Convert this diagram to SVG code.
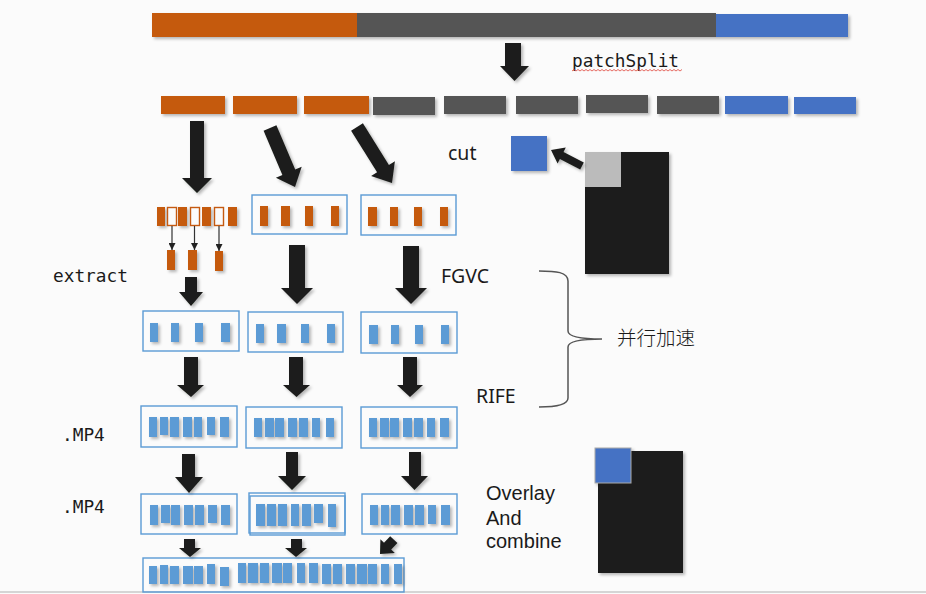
<svg xmlns="http://www.w3.org/2000/svg" width="926" height="594" viewBox="0 0 926 594">
<defs>
<filter id="sh" x="-30%" y="-30%" width="160%" height="160%">
<feDropShadow dx="2" dy="2" stdDeviation="1.6" flood-color="#000" flood-opacity="0.28"/>
</filter>
<marker id="tiny" viewBox="0 0 10 10" refX="10" refY="5" markerWidth="7" markerHeight="7" markerUnits="userSpaceOnUse" orient="auto">
<path d="M0,0 L10,5 L0,10 Z" fill="#222"/>
</marker>
</defs>
<style>
.or{fill:#C55A11}
.gr{fill:#545454}
.bl{fill:#4472C4}
.lb{fill:#5B9BD5}
.box{fill:none;stroke:#5B9BD5;stroke-width:1.4}
.hol{fill:#FBFBFB;stroke:#C55A11;stroke-width:1.4}
.arr{fill:#1B1D1A}
.mono{font-family:"DejaVu Sans Mono","Liberation Mono",monospace;font-size:17.8px;fill:#1A1A1A}
.sans{font-family:"Noto Sans","Open Sans","Liberation Sans",sans-serif;font-size:19.5px;fill:#1A1A1A}
.sans2{font-family:"Liberation Sans","Noto Sans",sans-serif;font-size:20px;fill:#1A1A1A}
.cjk{font-family:"Noto Sans CJK SC","Noto Sans",sans-serif;font-size:19.5px;fill:#1A1A1A;font-weight:300}
</style>
<rect x="0" y="0" width="926" height="594" fill="#FBFBFB"/>
<line x1="0" y1="592" x2="926" y2="592" stroke="#C8C8C8" stroke-width="1.5"/>

<g id="source-bar" filter="url(#sh)">
<rect class="or" x="152" y="13" width="205" height="24"/>
<rect class="gr" x="357" y="13" width="359" height="24"/>
<rect class="bl" x="716" y="14" width="132" height="23"/>
</g>

<g id="split-segments" filter="url(#sh)">
<rect class="or" x="161" y="96" width="64" height="18"/>
<rect class="or" x="233" y="96" width="64" height="18"/>
<rect class="or" x="304" y="96" width="65" height="18"/>
<rect class="gr" x="373" y="97" width="62" height="18"/>
<rect class="gr" x="444" y="96" width="62" height="18"/>
<rect class="gr" x="516" y="96" width="62" height="18"/>
<rect class="gr" x="586" y="95" width="62" height="18"/>
<rect class="gr" x="657" y="96" width="62" height="18"/>
<rect class="bl" x="725" y="96" width="63" height="18"/>
<rect class="bl" x="794" y="97" width="62" height="17"/>
</g>

<g id="cut-square" filter="url(#sh)">
<rect class="bl" x="511" y="136" width="36" height="35"/>
</g>
<g id="frame-source" filter="url(#sh)">
<rect x="585" y="152" width="84" height="122" fill="#1C1E1B"/>
<rect x="585" y="152" width="36" height="35" fill="#BBBBBB"/>
</g>

<g id="col1-frames">
<g filter="url(#sh)">
<rect class="or" x="157" y="207" width="8" height="19"/>
<rect class="or" x="178" y="207" width="9" height="19"/>
<rect class="or" x="202" y="207" width="9" height="19"/>
<rect class="or" x="228" y="207" width="9" height="19"/>
</g>
<rect class="hol" x="167.5" y="207.5" width="9" height="18"/>
<rect class="hol" x="190.5" y="207.5" width="9" height="18"/>
<rect class="hol" x="214.5" y="207.5" width="9" height="18"/>
</g>
<g id="col1-extracted" filter="url(#sh)">
<rect class="or" x="167" y="250" width="8" height="20"/>
<rect class="or" x="188" y="250" width="9" height="20"/>
<rect class="or" x="215" y="251" width="8" height="20"/>
</g>

<g id="col2-frames">
<rect class="box" x="252" y="195" width="95" height="39"/>
<g filter="url(#sh)">
<rect class="or" x="260" y="206" width="8" height="20"/>
<rect class="or" x="281" y="206" width="9" height="20"/>
<rect class="or" x="305" y="206" width="8" height="20"/>
<rect class="or" x="331" y="206" width="8" height="20"/>
</g>
</g>
<g id="col3-frames">
<rect class="box" x="361" y="195" width="95" height="40"/>
<g filter="url(#sh)">
<rect class="or" x="368" y="207" width="9" height="19"/>
<rect class="or" x="390" y="207" width="8" height="19"/>
<rect class="or" x="414" y="207" width="8" height="19"/>
<rect class="or" x="440" y="207" width="8" height="19"/>
</g>
</g>

<g id="fgvc-col1">
<rect class="box" x="143" y="311" width="96" height="40"/>
<g filter="url(#sh)">
<rect class="lb" x="150" y="323" width="8" height="19"/>
<rect class="lb" x="171" y="323" width="8" height="19"/>
<rect class="lb" x="195" y="323" width="8" height="19"/>
<rect class="lb" x="221" y="323" width="9" height="19"/>
</g>
</g>
<g id="fgvc-col2">
<rect class="box" x="248" y="312" width="95" height="40"/>
<g filter="url(#sh)">
<rect class="lb" x="256" y="324" width="8" height="19"/>
<rect class="lb" x="277" y="324" width="9" height="19"/>
<rect class="lb" x="301" y="324" width="8" height="19"/>
<rect class="lb" x="327" y="324" width="8" height="19"/>
</g>
</g>
<g id="fgvc-col3">
<rect class="box" x="361" y="312" width="96" height="41"/>
<g filter="url(#sh)">
<rect class="lb" x="369" y="325" width="9" height="19"/>
<rect class="lb" x="391" y="325" width="8" height="19"/>
<rect class="lb" x="415" y="325" width="8" height="19"/>
<rect class="lb" x="441" y="325" width="8" height="19"/>
</g>
</g>

<g id="rife-col1">
<rect class="box" x="141" y="406" width="96" height="41"/>
<g filter="url(#sh)">
<rect class="lb" x="149" y="417" width="8" height="20"/>
<rect class="lb" x="160" y="417" width="8" height="18"/>
<rect class="lb" x="170" y="417" width="9" height="20"/>
<rect class="lb" x="183" y="417" width="9" height="20"/>
<rect class="lb" x="194" y="417" width="8" height="20"/>
<rect class="lb" x="207" y="417" width="8" height="18"/>
<rect class="lb" x="220" y="417" width="9" height="20"/>
</g>
</g>
<g id="rife-col2">
<rect class="box" x="246" y="407" width="96" height="41"/>
<g filter="url(#sh)">
<rect class="lb" x="254" y="418" width="8" height="19"/>
<rect class="lb" x="265" y="418" width="9" height="19"/>
<rect class="lb" x="275" y="418" width="9" height="19"/>
<rect class="lb" x="288" y="418" width="9" height="19"/>
<rect class="lb" x="299" y="418" width="9" height="19"/>
<rect class="lb" x="312" y="418" width="8" height="19"/>
<rect class="lb" x="326" y="418" width="8" height="19"/>
</g>
</g>
<g id="rife-col3">
<rect class="box" x="361" y="407" width="96" height="41"/>
<g filter="url(#sh)">
<rect class="lb" x="369" y="418" width="8" height="19"/>
<rect class="lb" x="380" y="418" width="9" height="19"/>
<rect class="lb" x="390" y="418" width="9" height="19"/>
<rect class="lb" x="403" y="418" width="9" height="19"/>
<rect class="lb" x="414" y="418" width="9" height="19"/>
<rect class="lb" x="427" y="418" width="8" height="19"/>
<rect class="lb" x="440" y="418" width="9" height="19"/>
</g>
</g>

<g id="mp4-col1">
<rect class="box" x="141" y="494" width="96" height="40"/>
<g filter="url(#sh)">
<rect class="lb" x="150" y="505" width="8" height="20"/>
<rect class="lb" x="161" y="505" width="9" height="18"/>
<rect class="lb" x="171" y="505" width="9" height="20"/>
<rect class="lb" x="184" y="505" width="9" height="20"/>
<rect class="lb" x="195" y="505" width="9" height="20"/>
<rect class="lb" x="208" y="505" width="9" height="18"/>
<rect class="lb" x="221" y="505" width="9" height="20"/>
</g>
</g>
<g id="mp4-col2">
<rect class="box" x="249" y="493" width="96" height="40"/>
<rect class="box" x="250" y="496" width="95" height="39"/>
<g filter="url(#sh)">
<rect class="lb" x="256" y="504" width="9" height="22"/>
<rect class="lb" x="267" y="504" width="9" height="22"/>
<rect class="lb" x="278" y="504" width="9" height="22"/>
<rect class="lb" x="291" y="504" width="8" height="22"/>
<rect class="lb" x="302" y="504" width="9" height="22"/>
<rect class="lb" x="314" y="504" width="9" height="19"/>
<rect class="lb" x="328" y="504" width="8" height="23"/>
</g>
</g>
<g id="mp4-col3">
<rect class="box" x="362" y="494" width="95" height="40"/>
<g filter="url(#sh)">
<rect class="lb" x="370" y="505" width="8" height="20"/>
<rect class="lb" x="381" y="505" width="8" height="20"/>
<rect class="lb" x="391" y="505" width="9" height="20"/>
<rect class="lb" x="404" y="505" width="9" height="20"/>
<rect class="lb" x="415" y="505" width="9" height="20"/>
<rect class="lb" x="428" y="505" width="8" height="19"/>
<rect class="lb" x="441" y="505" width="9" height="20"/>
</g>
</g>

<g id="combined">
<rect class="box" x="143" y="558" width="261" height="34"/>
<g filter="url(#sh)">
<rect class="lb" x="149" y="566" width="8" height="18"/>
<rect class="lb" x="160" y="565" width="8" height="19"/>
<rect class="lb" x="170" y="566" width="9" height="18"/>
<rect class="lb" x="183" y="566" width="10" height="18"/>
<rect class="lb" x="194" y="566" width="9" height="18"/>
<rect class="lb" x="207" y="564" width="8" height="20"/>
<rect class="lb" x="220" y="567" width="9" height="19"/>
<rect class="lb" x="238" y="563" width="8" height="20"/>
<rect class="lb" x="248" y="563" width="10" height="20"/>
<rect class="lb" x="260" y="563" width="9" height="20"/>
<rect class="lb" x="272" y="563" width="10" height="20"/>
<rect class="lb" x="283" y="563" width="9" height="20"/>
<rect class="lb" x="297" y="563" width="8" height="20"/>
<rect class="lb" x="309" y="563" width="9" height="20"/>
<rect class="lb" x="322" y="564" width="9" height="20"/>
<rect class="lb" x="333" y="564" width="9" height="20"/>
<rect class="lb" x="346" y="564" width="9" height="20"/>
<rect class="lb" x="357" y="564" width="10" height="20"/>
<rect class="lb" x="368" y="564" width="9" height="20"/>
<rect class="lb" x="381" y="564" width="8" height="20"/>
<rect class="lb" x="394" y="564" width="8" height="20"/>
</g>
</g>

<g id="overlay-result" filter="url(#sh)">
<rect x="598" y="451" width="85" height="122" fill="#1C1E1B"/>
<rect class="bl" x="595" y="448" width="36" height="35" stroke="#AAAAAA" stroke-width="1"/>
</g>

<g id="connectors">
<g class="arr" filter="url(#sh)">
<polygon points="505,43 521,43 521,66 529,66 514.5,81 500,66 505,66"/>
<polygon points="190,121 204,121 204,178 212,178 197,193 182,178 190,178"/>
<polygon points="276.4,125.3 295.2,169.6 301.7,166.8 295,187 275.9,177.8 282.4,175 263.6,130.7"/>
<polygon points="362.9,123.3 388.9,164.9 394.9,161.2 392,183 371.1,176 377.1,172.3 351.1,130.7"/>
<polygon points="583.8,162.4 563.5,151.9 565.8,147.5 551,150 557.6,163.5 559.9,159.1 580.2,169.6"/>
<polygon points="185,277 197,277 197,292 203,292 191,306 179,292 185,292"/>
<polygon points="289,245 305,245 305,288 313,288 297,304 281,288 289,288"/>
<polygon points="403,246 419,246 419,288 427,288 411,304 395,288 403,288"/>
<polygon points="184,357 198,357 198,385 204,385 191,397 177,385 184,385"/>
<polygon points="289,357 303,357 303,385 310,385 296.5,397 283,385 289,385"/>
<polygon points="403,357 417,357 417,385 423,385 410,397 397,385 403,385"/>
<polygon points="182,454 195,454 195,477 203,477 189,493 175,477 182,477"/>
<polygon points="286,452 298,452 298,476 306,476 292,490 278,476 286,476"/>
<polygon points="409,452 421,452 421,476 428,476 414.5,490 401,476 409,476"/>
<polygon points="184,539 195,539 195,548 201,548 190,557 179,548 184,548"/>
<polygon points="291,539 302,539 302,548 307,548 296,557 285,548 291,548"/>
<polygon points="390.2,536.2 384,542.7 380.4,539.2 380,554 394.8,553 391.2,549.6 397.4,543.1"/>
</g>
<g stroke="#333" stroke-width="1.2" fill="none">
<line x1="172" y1="226" x2="172" y2="250" marker-end="url(#tiny)"/>
<line x1="194.5" y1="226" x2="194.5" y2="250" marker-end="url(#tiny)"/>
<line x1="219" y1="226" x2="219" y2="251" marker-end="url(#tiny)"/>
</g>
<path d="M539,271 C556,271 568,272 568,281 L568,331 C568,337 584,339 602,339 C584,339 568,341 568,347 L568,398 C568,405 556,407 539,407" fill="none" stroke="#555" stroke-width="1.5"/>
</g>

<g id="labels">
<text class="mono" x="572" y="67">patchSplit</text>
<path d="M572,71 l2,-1.5 l2,1.5 l2,-1.5 l2,1.5 l2,-1.5 l2,1.5 l2,-1.5 l2,1.5 l2,-1.5 l2,1.5 l2,-1.5 l2,1.5 l2,-1.5 l2,1.5 l2,-1.5 l2,1.5 l2,-1.5 l2,1.5 l2,-1.5 l2,1.5 l2,-1.5 l2,1.5 l2,-1.5 l2,1.5 l2,-1.5 l2,1.5 l2,-1.5 l2,1.5 l2,-1.5 l2,1.5 l2,-1.5 l2,1.5 l2,-1.5 l2,1.5 l2,-1.5 l2,1.5 l2,-1.5 l2,1.5 l2,-1.5 l2,1.5 l2,-1.5 l2,1.5 l2,-1.5 l2,1.5 l2,-1.5 l2,1.5 l2,-1.5 l2,1.5 l2,-1.5 l2,1.5 l2,-1.5 l2,1.5 l2,-1.5 l2,1.5 l2,-1.5" fill="none" stroke="#E0463C" stroke-width="0.8"/>
<text class="sans" x="448" y="160">cut</text>
<text class="mono" x="53" y="282">extract</text>
<text class="sans" x="441" y="283">FGVC</text>
<text class="cjk" x="617" y="345">并行加速</text>
<text class="sans" x="476" y="403">RIFE</text>
<text class="mono" x="62" y="441">.MP4</text>
<text class="mono" x="62" y="513">.MP4</text>
<text class="sans2" x="486" y="500">Overlay</text>
<text class="sans2" x="486" y="525">And</text>
<text class="sans2" x="486" y="548">combine</text>
</g>
</svg>
